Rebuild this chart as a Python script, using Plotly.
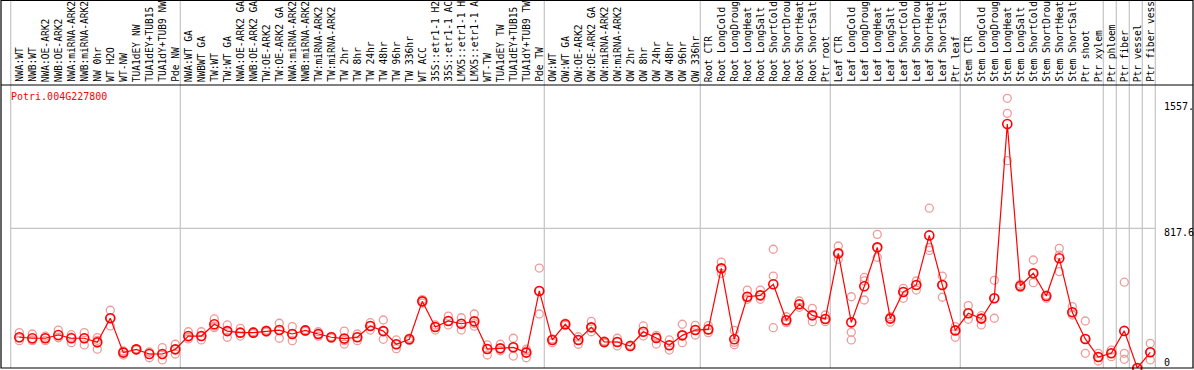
import plotly.graph_objects as go

W, H = 1194, 370

gene_id = "Potri.004G227800"

categories = [
    "NWA:WT", "NWB:WT", "NWA:OE-ARK2", "NWB:OE-ARK2", "NWA:miRNA-ARK2", "NWB:miRNA-ARK2",
    "NW 0hr", "WT H2O", "WT-NW", "TUA1dEY NW", "TUA1dEY+TUB15", "TUA1dY+TUB9 NW", "Pde NW",
    "NWA:WT GA", "NWBWT GA", "TW:WT", "TW:WT GA", "NWA:OE-ARK2 GA", "NWB:OE-ARK2 GA",
    "TW:OE-ARK2", "TW:OE-ARK2 GA", "NWA:miRNA-ARK2", "NWB:miRNA-ARK2", "TW:miRNA-ARK2",
    "TW:miRNA-ARK2", "TW 2hr", "TW 8hr", "TW 24hr", "TW 48hr", "TW 96hr", "TW 336hr",
    "WT ACC", "35S::etr1-1 H2", "35S::etr1-1 AC", "LMX5::etr1-1 H", "LMX5::etr1-1 A",
    "WT-TW", "TUA1dEY TW", "TUA1dEY+TUB15", "TUA1dY+TUB9 TW", "Pde TW",
    "OW:WT", "OW:WT GA", "OW:OE-ARK2", "OW:OE-ARK2 GA", "OW:miRNA-ARK2", "OW:miRNA-ARK2",
    "OW 2hr", "OW 8hr", "OW 24hr", "OW 48hr", "OW 96hr", "OW 336hr",
    "Root CTR", "Root LongCold", "Root LongDroug", "Root LongHeat", "Root LongSalt",
    "Root ShortCold", "Root ShortDrou", "Root ShortHeat", "Root ShortSalt", "Ptr root",
    "Leaf CTR", "Leaf LongCold", "Leaf LongDroug", "Leaf LongHeat", "Leaf LongSalt",
    "Leaf ShortCold", "Leaf ShortDrou", "Leaf ShortHeat", "Leaf ShortSalt", "Ptr leaf",
    "Stem CTR", "Stem LongCold", "Stem LongDroug", "Stem LongHeat", "Stem LongSalt",
    "Stem ShortCold", "Stem ShortDrou", "Stem ShortHeat", "Stem ShortSalt", "Ptr shoot",
    "Ptr xylem", "Ptr phloem", "Ptr fiber", "Ptr vessel", "Ptr fiber vess",
]

# number of consecutive categories in each grid-delimited group
group_sizes = [13, 28, 12, 10, 10, 11, 1, 1, 1, 1]

means = [
    180, 174, 174, 193, 174, 174, 150, 291, 90, 109, 82, 82, 109,
    187, 187, 256, 216, 207, 207, 216, 222, 199, 220, 199, 180, 172, 180,
    246, 216, 139, 168, 390, 240, 275, 259, 273, 111, 115, 121, 90, 451,
    164, 256, 164, 238, 152, 152, 129, 212, 176, 133, 191, 222,
    226, 583, 168, 417, 425, 490, 279, 373, 308, 287,
    671, 267, 478, 706, 289, 445, 486, 776, 486, 220,
    320, 289, 408, 1428, 480, 554, 421, 642, 326, 170, 64,
    86, 217, 0, 92,
]

replicates = [
    [207, 175, 160], [199, 164, 160], [186, 175, 160], [222, 180, 177], [195, 180, 148],
    [207, 174, 135], [178, 162, 110], [338, 291, 246], [100, 95, 76], [112, 109, 106],
    [92, 94, 60], [119, 80, 47], [139, 109, 82],
    [212, 180, 170], [212, 185, 164], [287, 245, 236], [252, 216, 180], [232, 207, 187],
    [212, 207, 202], [222, 216, 210], [262, 222, 174], [242, 199, 160], [225, 220, 215],
    [212, 199, 186], [185, 180, 175], [216, 160, 140], [199, 180, 160], [265, 246, 222],
    [281, 216, 168], [164, 139, 113], [175, 168, 161], [400, 390, 380], [252, 240, 222],
    [304, 275, 252], [294, 259, 222], [316, 260, 245], [135, 111, 76], [139, 115, 101],
    [174, 121, 70], [110, 100, 60], [585, 451, 316],
    [170, 164, 148], [262, 256, 250], [183, 164, 139], [273, 238, 212], [158, 152, 146],
    [174, 152, 129], [133, 129, 125], [246, 212, 187], [191, 176, 140], [164, 133, 105],
    [256, 191, 148], [250, 222, 193],
    [248, 226, 207], [620, 583, 554], [220, 150, 136], [456, 417, 402], [456, 425, 402],
    [695, 538, 236], [300, 279, 265], [392, 373, 355], [349, 308, 271], [310, 287, 271],
    [714, 671, 636], [417, 209, 164], [530, 510, 398], [782, 704, 648], [300, 290, 268],
    [466, 445, 408], [509, 486, 456], [935, 705, 688], [538, 486, 414], [242, 220, 180],
    [365, 320, 285], [306, 289, 252], [513, 408, 291], [1578, 1490, 1213], [490, 480, 470],
    [632, 554, 499], [427, 420, 408], [700, 661, 564], [359, 326, 310], [275, 170, 86],
    [86, 64, 41],
    [105, 86, 66], [502, 86, 51], [0, 0, 0], [144, 92, 47],
]

tick_values = [0, 817.6, 1557]
tick_labels = ["0", "817.6", "1557."]
grid_values = [817.6]

# ---------------- layout geometry (pixels) ----------------
X0, DX = 19.3, 13.0            # pixel centre of first category, category pitch
PLOT_TOP, PLOT_BOTTOM = 85, 368
LABEL_BASE = 83
YMAX = 1656.0
FONT = "DejaVu Sans Mono"

n = len(categories)
xs = list(range(n))


def px_x(p):
    return (p - X0) / DX


def py(p):
    return (H - p) / H


fig = go.Figure()

rx, ry = [], []
for i, reps in enumerate(replicates):
    for v in reps:
        rx.append(i)
        ry.append(v)

fig.add_trace(go.Scatter(
    x=rx, y=ry, mode="markers", cliponaxis=False, hoverinfo="skip",
    marker=dict(symbol="circle-open", size=8, color="#f09a9a", line=dict(width=1.3, color="#f09a9a")),
))
fig.add_trace(go.Scatter(
    x=xs, y=means, mode="lines+markers", cliponaxis=False,
    line=dict(color="#ff0000", width=1.2),
    marker=dict(symbol="circle-open", size=9, color="#ff0000", line=dict(width=1.6, color="#ff0000")),
    text=categories,
))

shapes = []
GRAY = "#c4c4c4"
# vertical separators
bounds = [-0.66]
acc = 0
for s in group_sizes:
    acc += s
    bounds.append(acc - 1 + 5 / DX)
for b in bounds:
    shapes.append(dict(type="line", xref="x", yref="paper", x0=b, x1=b, y0=py(PLOT_BOTTOM), y1=py(0),
                       line=dict(color=GRAY, width=1.2), layer="below"))
# horizontal grid
for g in grid_values:
    shapes.append(dict(type="line", xref="x", yref="y", x0=bounds[0], x1=bounds[-1], y0=g, y1=g,
                       line=dict(color=GRAY, width=1.2), layer="below"))
# frame
shapes.append(dict(type="rect", xref="paper", yref="paper", x0=1 / W, x1=1193 / W,
                   y0=py(PLOT_BOTTOM), y1=py(0.5), line=dict(color="black", width=1.2)))
shapes.append(dict(type="line", xref="paper", yref="paper", x0=1 / W, x1=1193 / W,
                   y0=py(PLOT_TOP), y1=py(PLOT_TOP), line=dict(color="black", width=1.2)))

annotations = []
for i, c in enumerate(categories):
    annotations.append(dict(x=i, xref="x", y=py(LABEL_BASE), yref="paper", text=c, textangle=-90,
                            showarrow=False, xanchor="center", yanchor="bottom", borderpad=0,
                            font=dict(family=FONT, size=9.6, color="black")))
annotations.append(dict(x=10 / W, xref="paper", y=py(90), yref="paper", text=gene_id, showarrow=False,
                        xanchor="left", yanchor="top", borderpad=0,
                        font=dict(family=FONT, size=10, color="#ff0000")))
shifts = {0: 6, 817.6: -4, 1557: -5}
for v, t in zip(tick_values, tick_labels):
    annotations.append(dict(x=1163 / W, xref="paper", y=v, yref="y", text=t, showarrow=False,
                            xanchor="left", yanchor="middle", yshift=shifts.get(v, -4), borderpad=0,
                            font=dict(family=FONT, size=10, color="black")))

fig.update_layout(
    width=W, height=H, margin=dict(l=0, r=0, t=0, b=0),
    paper_bgcolor="white", plot_bgcolor="white", showlegend=False,
    xaxis=dict(range=[px_x(0), px_x(W)], domain=[0, 1], visible=False, fixedrange=True),
    yaxis=dict(range=[0, YMAX], domain=[py(PLOT_BOTTOM), py(PLOT_TOP)], visible=False, fixedrange=True),
    shapes=shapes, annotations=annotations,
)

fig.write_html("out.html", config={"displayModeBar": False},
               post_script="document.body.style.margin='0';document.body.style.overflow='hidden';")
